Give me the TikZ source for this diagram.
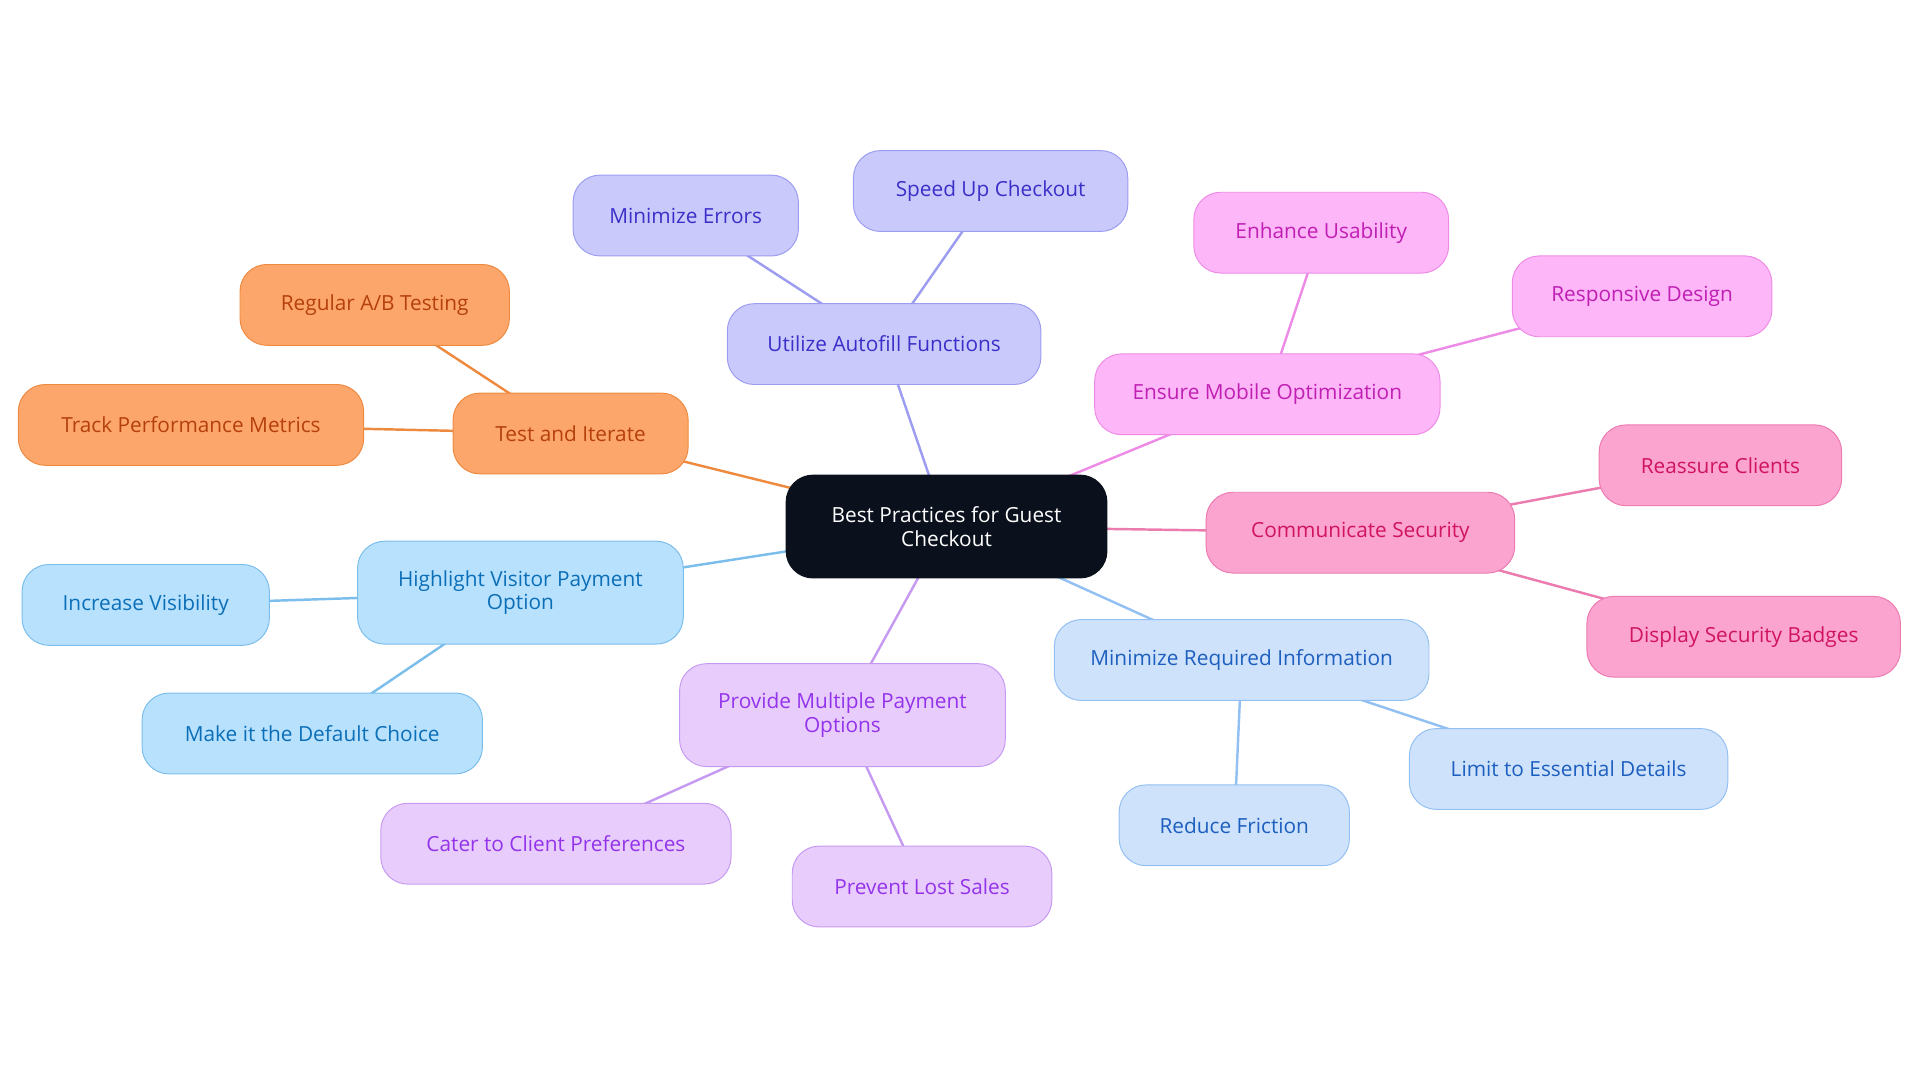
\documentclass[tikz,border=0pt]{standalone}
\usepackage{fontspec}
\setmainfont{Open Sans}
\usetikzlibrary{backgrounds}
\definecolor{cdark}{HTML}{0B111C}
\definecolor{cAf}{HTML}{C9CAFB}\definecolor{cAs}{HTML}{9C9DF0}\definecolor{cAt}{HTML}{3B2FC9}
\definecolor{cMf}{HTML}{FDB6F7}\definecolor{cMs}{HTML}{EE8BE6}\definecolor{cMt}{HTML}{C01FB4}
\definecolor{cSf}{HTML}{FBA4CF}\definecolor{cSs}{HTML}{EC7BB0}\definecolor{cSt}{HTML}{D0145F}
\definecolor{cRf}{HTML}{CFE2FB}\definecolor{cRs}{HTML}{93C0F2}\definecolor{cRt}{HTML}{1D5FBF}
\definecolor{cPf}{HTML}{E8CDFC}\definecolor{cPs}{HTML}{C79AF2}\definecolor{cPt}{HTML}{9333EA}
\definecolor{cHf}{HTML}{B8E1FD}\definecolor{cHs}{HTML}{7BBDEB}\definecolor{cHt}{HTML}{0B6FB8}
\definecolor{cTf}{HTML}{FDA66B}\definecolor{cTs}{HTML}{EE8A40}\definecolor{cTt}{HTML}{B5400C}
\tikzset{
 bx/.style={rounded corners=22pt,minimum height=66pt,align=center,font=\fontsize{17}{19}\selectfont,line width=0.8pt,inner sep=2pt},
 gA/.style={bx,fill=cAf,draw=cAs,text=cAt},
 gM/.style={bx,fill=cMf,draw=cMs,text=cMt},
 gS/.style={bx,fill=cSf,draw=cSs,text=cSt},
 gR/.style={bx,fill=cRf,draw=cRs,text=cRt},
 gP/.style={bx,fill=cPf,draw=cPs,text=cPt},
 gH/.style={bx,fill=cHf,draw=cHs,text=cHt},
 gT/.style={bx,fill=cTf,draw=cTs,text=cTt},
 ln/.style={line width=2pt},
}
\begin{document}
\begin{tikzpicture}[x=1pt,y=-1pt]
\useasboundingbox (0,0) rectangle (1568,884);
\node[bx,fill=cdark,draw=cdark,text=white,minimum width=262pt,minimum height=84pt] (c) at (773,430) {Best Practices for Guest\\Checkout};
\node[gA,minimum width=256pt] (a) at (722,281) {Utilize Autofill Functions};
\node[gA,minimum width=184pt] (a1) at (560,176) {Minimize Errors};
\node[gA,minimum width=224pt] (a2) at (809,156) {Speed Up Checkout};
\node[gM,minimum width=282pt] (m) at (1035,322) {Ensure Mobile Optimization};
\node[gM,minimum width=208pt] (m1) at (1079,190) {Enhance Usability};
\node[gM,minimum width=212pt] (m2) at (1341,242) {Responsive Design};
\node[gS,minimum width=252pt] (s) at (1111,435) {Communicate Security};
\node[gS,minimum width=198pt] (s1) at (1405,380) {Reassure Clients};
\node[gS,minimum width=256pt] (s2) at (1424,520) {Display Security Badges};
\node[gR,minimum width=306pt] (r) at (1014,539) {Minimize Required Information};
\node[gR,minimum width=260pt] (r1) at (1281,628) {Limit to Essential Details};
\node[gR,minimum width=188pt] (r2) at (1008,674) {Reduce Friction};
\node[gP,minimum width=266pt,minimum height=84pt] (p) at (688,584) {Provide Multiple Payment\\Options};
\node[gP,minimum width=286pt] (p1) at (454,689) {Cater to Client Preferences};
\node[gP,minimum width=212pt] (p2) at (753,724) {Prevent Lost Sales};
\node[gH,minimum width=266pt,minimum height=84pt] (h) at (425,484) {Highlight Visitor Payment\\Option};
\node[gH,minimum width=202pt] (h1) at (119,494) {Increase Visibility};
\node[gH,minimum width=278pt] (h2) at (255,599) {Make it the Default Choice};
\node[gT,minimum width=192pt] (t) at (466,354) {Test and Iterate};
\node[gT,minimum width=220pt] (t1) at (306,249) {Regular A/B Testing};
\node[gT,minimum width=282pt] (t2) at (156,347) {Track Performance Metrics};
\begin{scope}[on background layer]
\draw[ln,cAs] (c.center)--(a.center) (a.center)--(a1.center) (a.center)--(a2.center);
\draw[ln,cMs] (c.center)--(m.center) (m.center)--(m1.center) (m.center)--(m2.center);
\draw[ln,cSs] (c.center)--(s.center) (s.center)--(s1.center) (s.center)--(s2.center);
\draw[ln,cRs] (c.center)--(r.center) (r.center)--(r1.center) (r.center)--(r2.center);
\draw[ln,cPs] (c.center)--(p.center) (p.center)--(p1.center) (p.center)--(p2.center);
\draw[ln,cHs] (c.center)--(h.center) (h.center)--(h1.center) (h.center)--(h2.center);
\draw[ln,cTs] (c.center)--(t.center) (t.center)--(t1.center) (t.center)--(t2.center);
\end{scope}
\end{tikzpicture}
\end{document}
